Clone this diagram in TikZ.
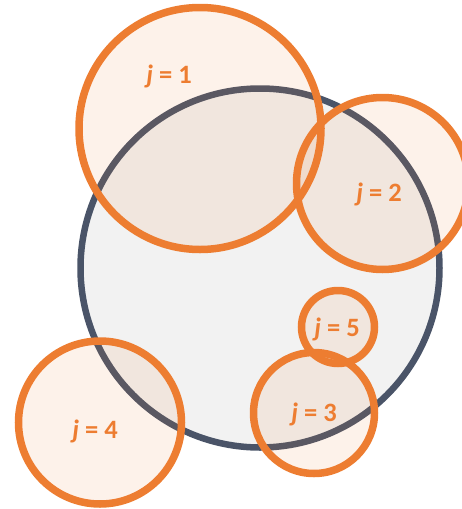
\documentclass[tikz,border=0pt]{standalone}
\usepackage{fontspec}
\setmainfont{Carlito}
\usepackage{xcolor}
\usetikzlibrary{positioning}
\definecolor{accent}{HTML}{ED7D31}
\definecolor{slate}{HTML}{4A5468}
\definecolor{paper}{HTML}{F2F2F2}

\begin{document}
\begin{tikzpicture}[x=1pt,y=-1pt,
    field/.style={circle,draw=slate,line width=6.5pt,fill=paper,inner sep=0pt},
    bubble/.style={circle,draw=accent,line width=7.5pt,fill=accent,fill opacity=0.1,draw opacity=1,inner sep=0pt},
    lbl/.style={text=accent,font=\fontsize{26.5}{30}\selectfont\bfseries}]
    \useasboundingbox (0,0) rectangle (462,509);
    % outer set
    \node[field,minimum size=359pt] (U) at (260,268) {};
    % the sub-circles
    \node[bubble,minimum size=242pt] (c1) at (200,128.5) {};
    \node[bubble,minimum size=172pt] (c2) at (382.5,183.5) {};
    \node[bubble,minimum size=73pt] (c5) at (338,327) {};
    \node[bubble,minimum size=121pt] (c3) at (314,413) {};
    \node[bubble,minimum size=163pt] (c4) at (100,422.5) {};
    % labels
    \node[lbl] (l1) at (169,76) {\textit{j} = 1};
    \node[lbl] (l2) at (379,194) {\textit{j} = 2};
    \node[lbl] (l5) at (337,329) {\textit{j} = 5};
    \node[lbl] (l3) at (314,414) {\textit{j} = 3};
    \node[lbl] (l4) at (95,431) {\textit{j} = 4};
\end{tikzpicture}
\end{document}
